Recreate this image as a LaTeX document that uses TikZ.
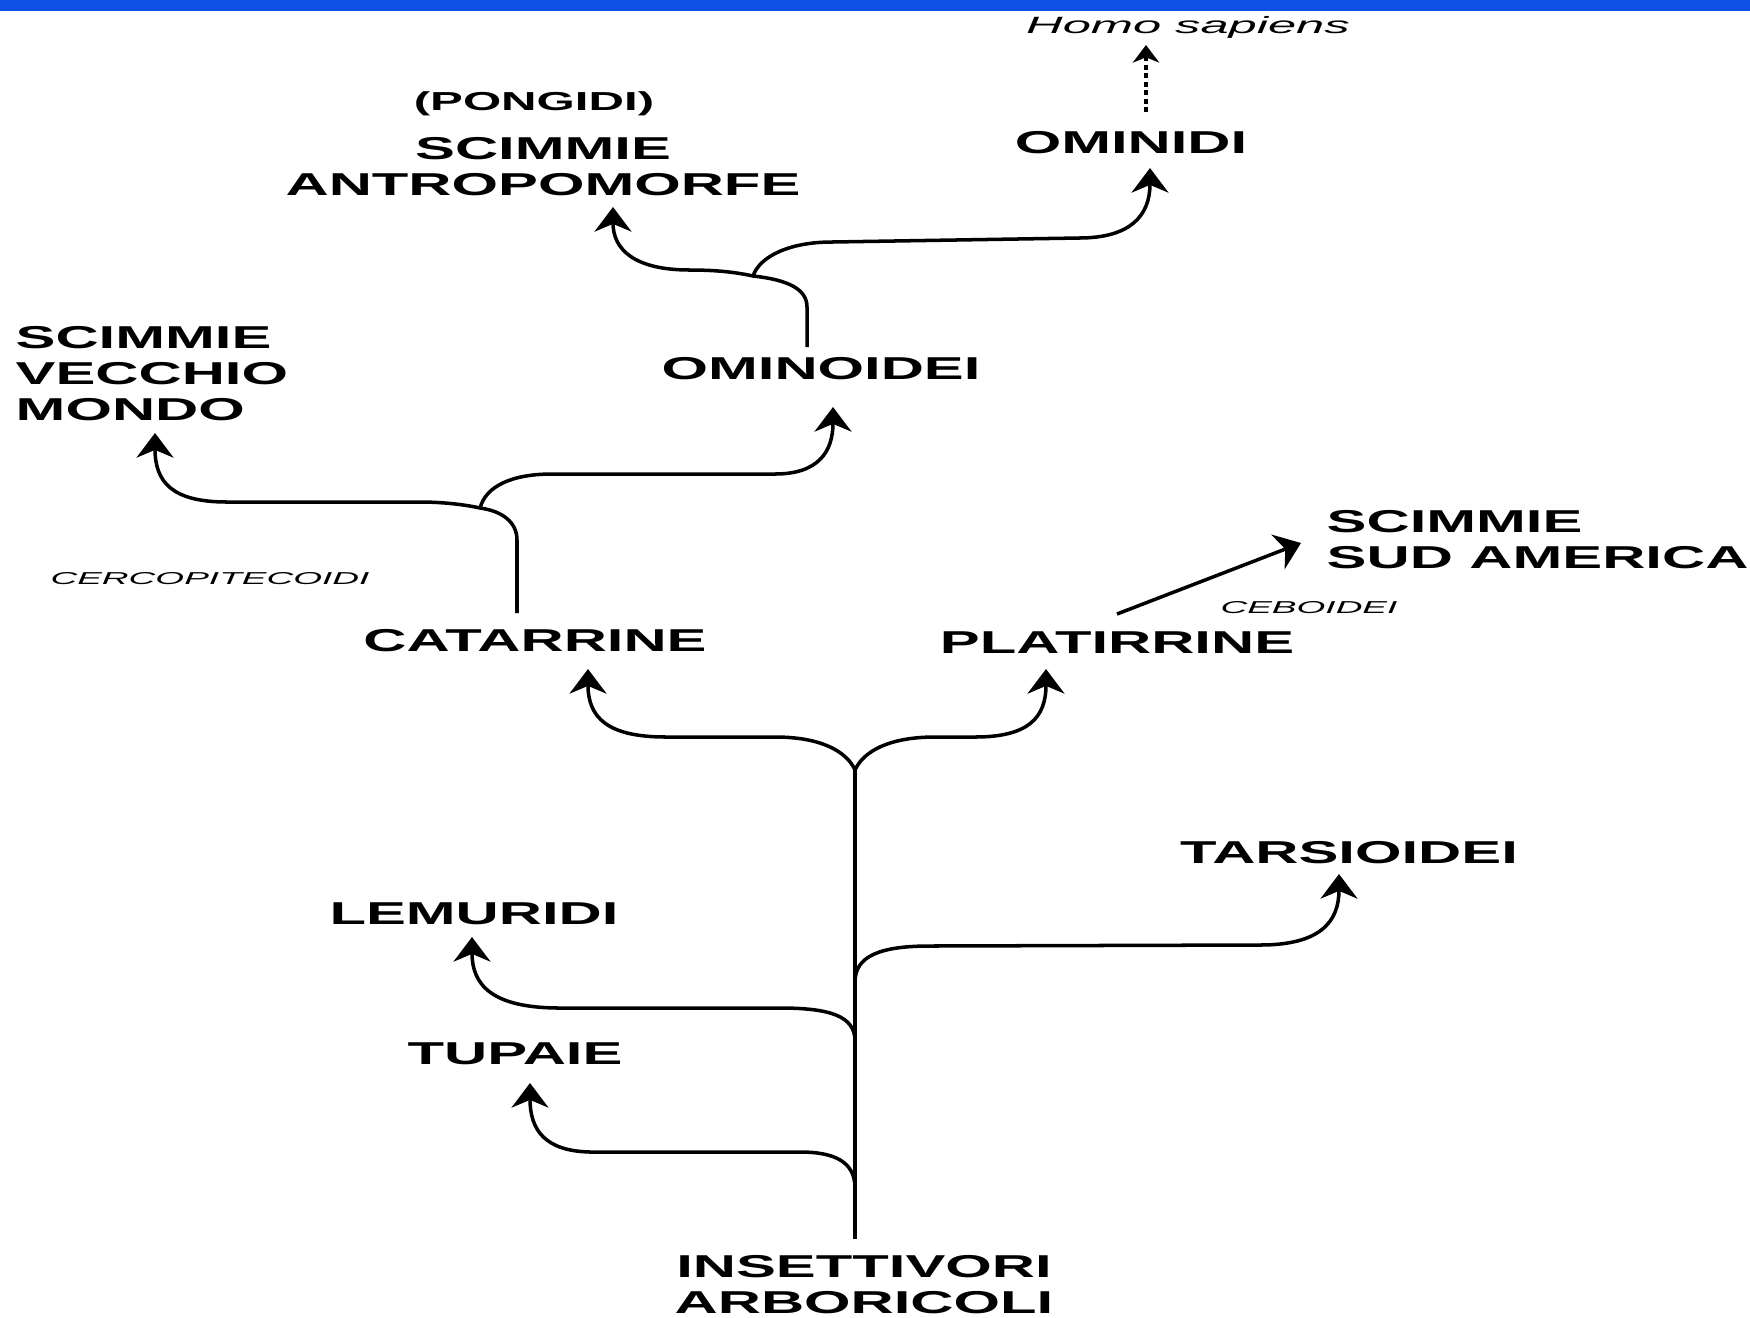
\documentclass[tikz,border=0pt]{standalone}
\usepackage{fontspec}
\usepackage{tikz}
\usetikzlibrary{arrows.meta}
\newfontfamily\tagfont[FakeStretch=1.89]{Liberation Sans}
\newfontfamily\notefont[FakeStretch=2.15]{Liberation Sans}
\definecolor{barblue}{RGB}{14,80,228}

\begin{document}
\begin{tikzpicture}[x=0.1mm,y=-0.1mm,>={Stealth[length=7pt,width=10.5pt,inset=2.2pt]},
  tag/.style={font=\tagfont\bfseries\fontsize{9}{10.2}\selectfont,inner sep=0pt,anchor=base,align=center},
  note/.style={font=\notefont\itshape\fontsize{4.9}{6}\selectfont,inner sep=0pt,anchor=base},
  branch/.style={->,line width=1pt}]
\useasboundingbox (0,0) rectangle (1750,1317);
\fill[barblue] (0,0) rectangle (1750,11);

% labels (multi-line ones sit on their last baseline)
\node[note,font=\notefont\itshape\fontsize{6.7}{8}\selectfont] (homo) at (1188,33) {Homo sapiens};
\node[tag,font=\tagfont\bfseries\fontsize{7.4}{8.6}\selectfont] (pong) at (534,110) {(PONGIDI)};
\node[tag] (antro) at (543,195) {SCIMMIE\\ANTROPOMORFE};
\node[tag] (omid) at (1131,153) {OMINIDI};
\node[tag,anchor=base west,align=left] (vecchio) at (15,420) {SCIMMIE\\VECCHIO\\MONDO};
\node[tag] (omoid) at (821,379) {OMINOIDEI};
\node[note] (cerco) at (210,584) {CERCOPITECOIDI};
\node[tag] (cat) at (535,651) {CATARRINE};
\node[tag] (plat) at (1117,653) {PLATIRRINE};
\node[tag,anchor=base west,align=left] (sud) at (1326,568) {SCIMMIE\\SUD AMERICA};
\node[note] (cebo) at (1309,613) {CEBOIDEI};
\node[tag] (tars) at (1349,863) {TARSIOIDEI};
\node[tag] (lemu) at (474,924) {LEMURIDI};
\node[tag] (tupa) at (515,1064) {TUPAIE};
\node[tag] (ins) at (864,1313) {INSETTIVORI\\ARBORICOLI};

% junctions and arrow tips
\coordinate (root) at (855,1239);
\coordinate (fork) at (855,770);
\coordinate (jTup) at (855,1188);
\coordinate (jLem) at (855,1041);
\coordinate (jTar) at (855,982);
\coordinate (sCat) at (517,613);
\coordinate (jCat) at (480,508);
\coordinate (sOmo) at (807,347);
\coordinate (jOmo) at (753,276);
\coordinate (sPla) at (1117,614);
\coordinate (sOmi) at (1146,112);
\coordinate (tCat) at (588,669);
\coordinate (tPla) at (1046,669);
\coordinate (tTar) at (1339,874);
\coordinate (tLem) at (472,937);
\coordinate (tTup) at (530,1083);
\coordinate (tVec) at (155,433);
\coordinate (tOmo) at (833,407);
\coordinate (tAnt) at (613,207);
\coordinate (tOmi) at (1150,168);
\coordinate (tHom) at (1146,45);
\coordinate (tSud) at (1301,543);

% trunk
\draw[line width=1pt] (root) -- (fork);
\draw[branch] (jTup) .. controls (855,1162) and (835,1152) .. (800,1152) -- (590,1152) .. controls (545,1151) and (530,1130) .. (tTup);
\draw[branch] (jLem) .. controls (855,1016) and (830,1008) .. (780,1008) -- (560,1008) .. controls (492,1008) and (472,985) .. (tLem);
\draw[branch] (jTar) .. controls (855,956) and (880,946) .. (930,946) -- (1260,945) .. controls (1320,945) and (1339,922) .. (tTar);
\draw[branch] (fork) .. controls (847,752) and (822,737) .. (775,737) -- (666,737) .. controls (608,737) and (588,718) .. (tCat);
\draw[branch] (fork) .. controls (863,752) and (888,737) .. (935,737) -- (975,737) .. controls (1028,737) and (1046,718) .. (tPla);

% catarrine
\draw[branch] (sCat) -- (517,540) .. controls (517,522) and (502,511) .. (jCat) .. controls (462,504) and (440,502) .. (420,502) -- (227,502) .. controls (172,502) and (155,482) .. (tVec);
\draw[branch] (jCat) .. controls (486,486) and (512,474) .. (552,474) -- (775,474) .. controls (818,474) and (833,452) .. (tOmo);
\draw[branch] (sPla) -- (tSud);

% ominoidei
\draw[branch] (sOmo) -- (807,307) .. controls (807,290) and (790,280) .. (jOmo) .. controls (735,272) and (715,270) .. (690,270) .. controls (635,270) and (613,250) .. (tAnt);
\draw[branch] (jOmo) .. controls (760,256) and (790,242) .. (832,242) -- (1079,238) .. controls (1130,238) and (1150,216) .. (tOmi);
\draw[line width=1.2pt,dash pattern=on 1.4pt off 1pt,-{Stealth[length=5pt,width=7.5pt,inset=1.5pt]}] (sOmi) -- (tHom);
\end{tikzpicture}
\end{document}
